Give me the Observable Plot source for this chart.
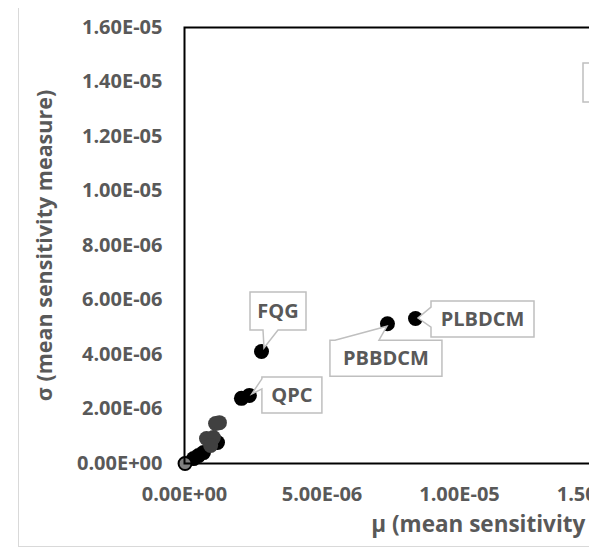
<!DOCTYPE html>
<html>
<head>
<meta charset="utf-8">
<script src="https://cdn.jsdelivr.net/npm/d3@7"></script>
<script src="https://cdn.jsdelivr.net/npm/@observablehq/plot@0.6"></script>
<style>
  html, body { margin: 0; padding: 0; background: #ffffff; overflow: hidden; }
  #page { width: 599px; height: 552px; background: #fff; }
  #wrap { position: relative; width: 589px; height: 552px; overflow: hidden; background: #fff; }
  #border { position: absolute; left: 18px; top: 8px; width: 900px; height: 538px;
            border-left: 1.5px solid #d9d9d9; border-bottom: 1.5px solid #d9d9d9; }
  #chart { position: absolute; left: 0; top: 0; width: 892px; }
  #chart svg { max-width: none !important; width: 892px !important; height: 552px !important; }
</style>
</head>
<body>
<div id="page"><div id="wrap"><div id="border"></div><div id="chart"></div></div></div>
<script>
// ---- data ----
const xTitle = "μ (mean sensitivity measure)";
const yTitle = "σ (mean sensitivity measure)";
const xTicks = [0, 5e-6, 1e-5, 1.5e-5, 2e-5, 2.5e-5];
const yTicks = [0, 2e-6, 4e-6, 6e-6, 8e-6, 1e-5, 1.2e-5, 1.4e-5, 1.6e-5];

// black series (mu, sigma)
const blackMu    = [2.80e-6, 8.40e-6, 7.38e-6, 2.07e-6, 2.36e-6, 1.20e-6, 0.69e-6, 0.51e-6, 0.33e-6];
const blackSigma = [4.11e-6, 5.32e-6, 5.13e-6, 2.39e-6, 2.50e-6, 0.77e-6, 0.40e-6, 0.29e-6, 0.18e-6];
// dark grey series
const greyMu     = [1.13e-6, 1.27e-6, 0.80e-6, 1.05e-6, 0.95e-6];
const greySigma  = [1.47e-6, 1.50e-6, 0.92e-6, 0.95e-6, 0.66e-6];
// light grey point at origin
const lightMu    = [0.02e-6];
const lightSigma = [0.0];

// labelled points
const labelNames = ["FQG", "QPC", "PBBDCM", "PLBDCM"];
const labelMu    = [2.80e-6, 2.36e-6, 7.38e-6, 8.40e-6];
const labelSigma = [4.11e-6, 2.50e-6, 5.13e-6, 5.32e-6];

// ---- layout of the callouts (pixels, relative to the point) ----
const calloutLayout = {
  FQG:    {bx: -11, by: -59, w: 56,  h: 38, side: "bottom", a: 2,   b: 17, tx: 3, ty: -3},
  QPC:    {bx: 13,  by: -18, w: 60,  h: 36, side: "left",   a: -16, b: -6, tx: 3, ty: -1},
  PBBDCM: {bx: -57, by: 17,  w: 112, h: 36, side: "top",    a: -52, b: -8, tx: 0, ty: 3},
  PLBDCM: {bx: 16,  by: -17, w: 103, h: 36, side: "left",   a: -11, b: 9,  tx: 3, ty: 0}
};

const fmt = d => d.toExponential(2).toUpperCase().replace(/E([+-])(\d)$/, "E$10$2");

const blackData = blackMu.map((m, i) => ({mu: m, sigma: blackSigma[i]}));
const greyData  = greyMu.map((m, i) => ({mu: m, sigma: greySigma[i]}));
const lightData = lightMu.map((m, i) => ({mu: m, sigma: lightSigma[i]}));
const labels    = labelNames.map((n, i) => ({name: n, mu: labelMu[i], sigma: labelSigma[i]}));

const textColor = "#595959";
const font = "'Open Sans', 'DejaVu Sans', sans-serif";

function callouts(index, scales) {
  const g = d3.create("svg:g");
  for (const c of labels) {
    const px = scales.x(c.mu), py = scales.y(c.sigma);
    const L = calloutLayout[c.name];
    const x0 = px + L.bx, y0 = py + L.by, x1 = x0 + L.w, y1 = y0 + L.h;
    const tip = [px + L.tx, py + L.ty];
    let pts;
    if (L.side === "bottom") {
      pts = [[x0,y0],[x1,y0],[x1,y1],[px+L.b,y1],tip,[px+L.a,y1],[x0,y1]];
    } else if (L.side === "top") {
      pts = [[x0,y0],[px+L.a,y0],tip,[px+L.b,y0],[x1,y0],[x1,y1],[x0,y1]];
    } else {
      pts = [[x0,y0],[x1,y0],[x1,y1],[x0,y1],[x0,py+L.b],tip,[x0,py+L.a]];
    }
    g.append("path")
      .attr("d", "M" + pts.map(p => p.join(",")).join("L") + "Z")
      .attr("fill", "white").attr("stroke", "#bfbfbf").attr("stroke-width", 1.5);
    g.append("text")
      .attr("x", (x0 + x1) / 2).attr("y", (y0 + y1) / 2)
      .attr("text-anchor", "middle").attr("dy", "0.36em")
      .attr("font-family", font).attr("font-weight", "bold").attr("font-size", 20)
      .attr("fill", textColor).text(c.name);
  }
  // partially visible box at top right
  g.append("rect").attr("x", 583).attr("y", 63).attr("width", 120).attr("height", 39)
    .attr("fill", "white").attr("stroke", "#bfbfbf").attr("stroke-width", 1.5);
  return g.node();
}

const plot = Plot.plot({
  width: 892,
  height: 552,
  marginLeft: 184,
  marginTop: 27,
  marginBottom: 89,
  marginRight: 20.5,
  style: {fontFamily: font, fontSize: "20px", fontWeight: "bold", color: textColor, background: "transparent", overflow: "visible", maxWidth: "none"},
  x: {domain: [0, 2.5e-5], ticks: xTicks, tickFormat: fmt, tickSize: 0, tickPadding: 23, label: null},
  y: {domain: [0, 1.6e-5], ticks: yTicks, tickFormat: fmt, tickSize: 0, tickPadding: 22, label: null},
  marks: [
    Plot.dot(blackData, {x: "mu", y: "sigma", r: 7.5, fill: "black", stroke: "none"}),
    Plot.dot(greyData,  {x: "mu", y: "sigma", r: 7.5, fill: "#404040", stroke: "none"}),
    Plot.dot(lightData, {x: "mu", y: "sigma", r: 6.5, fill: "#7f7f7f", stroke: "black", strokeWidth: 2}),
    Plot.frame({stroke: "black", strokeWidth: 2}),
    callouts,
    Plot.text([xTitle], {text: d => d, frameAnchor: "bottom", dx: 6, dy: 68, textAnchor: "middle", fill: textColor, fontSize: 22.5, fontWeight: "bold"}),
    Plot.text([yTitle], {text: d => d, frameAnchor: "left", dx: -139, rotate: -90, textAnchor: "middle", fill: textColor, fontSize: 21.5, fontWeight: "bold"})
  ]
});
document.getElementById("chart").appendChild(plot);
</script>
</body>
</html>
